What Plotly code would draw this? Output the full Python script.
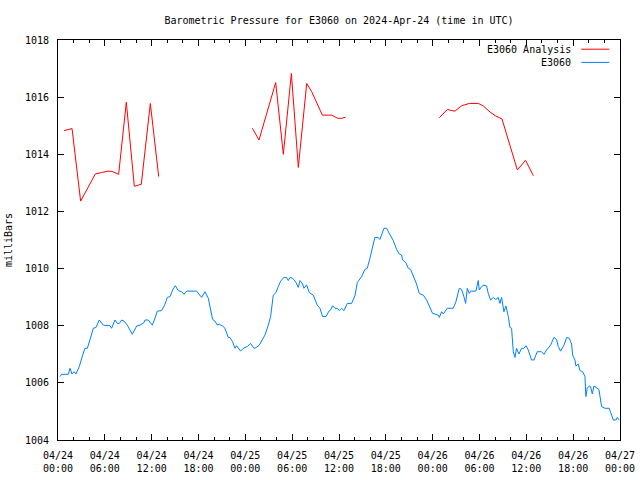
import pandas as pd
import plotly.graph_objects as go

title_text = "Barometric Pressure for E3060 on 2024-Apr-24 (time in UTC)"
start_time = "2024-04-24 00:00"
end_time = "2024-04-27 00:00"

# E3060 Analysis (hours after start, milliBars); None = gap
analysis_hours = [0.77, 1.8, 2.9, 3.42, 4.06, 4.78, 5.55, 6.4, 6.92, 7.77, 8.75, 9.78, 10.67, 11.83, 12.9,
                  18.0,
                  24.9, 25.75, 27.89, 28.87, 29.9, 30.79, 31.86, 32.5, 33.87, 35.06, 35.83, 36.34, 36.85,
                  42.0,
                  48.86, 49.88, 50.44, 50.86, 51.72, 52.7, 53.85, 54.49, 55.35, 56.07, 56.88, 58.85, 59.9, 60.9]
analysis_mb = [1014.83, 1014.9, 1012.36, 1012.63, 1012.98, 1013.31, 1013.36, 1013.41, 1013.4, 1013.3, 1015.82,
               1012.88, 1012.95, 1015.78, 1013.22,
               None,
               1014.91, 1014.5, 1016.51, 1014.0, 1016.83, 1013.54, 1016.48, 1016.19, 1015.37, 1015.37, 1015.26,
               1015.26, 1015.3,
               None,
               1015.28, 1015.57, 1015.53, 1015.51, 1015.70, 1015.78, 1015.78, 1015.69, 1015.48, 1015.34, 1015.24,
               1013.45, 1013.79, 1013.25]

# E3060 observations
obs_hours = [0.26, 0.47, 1.32, 1.54, 1.79, 2.05, 2.31, 2.73, 3.16, 3.46, 3.76, 4.1, 4.53, 4.87, 5.29, 5.81,
             6.66, 6.87, 7.3, 7.6, 7.86, 8.16, 8.45, 8.88, 9.52, 10.08, 10.5, 11.02, 11.14, 11.57, 12.08, 12.42,
             12.72, 13.28, 13.71, 14.0, 14.35, 14.69, 15.03, 15.41, 15.84, 16.14, 16.48, 17.76, 18.4, 18.83,
             19.26, 19.56, 19.81, 20.11, 20.41, 20.67, 21.09, 21.39, 21.61, 21.82, 22.03, 22.37, 22.67, 22.88,
             23.4, 23.74, 24.25, 24.68, 25.1, 25.36, 25.79, 26.21, 26.51, 26.94, 27.24, 27.58, 27.92, 28.22,
             28.52, 28.95, 29.29, 29.5, 29.72, 30.06, 30.48, 30.78, 31.0, 31.34, 31.51, 31.85, 32.19, 32.7,
             33.22, 33.56, 33.9, 34.33, 34.71, 34.92, 35.18, 35.48, 35.78, 36.04, 36.33, 36.63, 37.06, 37.61,
             38.04, 38.34, 38.9, 39.32, 39.62, 39.96, 40.26, 40.6, 41.03, 41.24, 41.76, 42.1, 42.44, 42.95,
             43.38, 43.72, 44.02, 44.15, 44.57, 44.87, 45.17, 45.6, 45.94, 46.28, 46.8, 47.22, 47.65, 47.99,
             48.42, 48.72, 48.85, 49.15, 49.36, 49.87, 50.64, 50.98, 51.41, 51.71, 52.0, 52.22, 52.43, 52.69,
             52.9, 53.54, 53.84, 53.97, 54.27, 54.57, 54.91, 55.12, 55.42, 55.76, 56.1, 56.4, 56.62, 56.83,
             57.13, 57.39, 57.69, 57.9, 58.11, 58.33, 58.54, 58.75, 59.05, 59.39, 59.69, 59.95, 60.25, 60.67,
             60.97, 61.4, 61.95, 62.25, 62.6, 63.11, 63.53, 63.88, 64.09, 64.39, 64.82, 65.16, 65.5, 65.8,
             65.93, 66.23, 66.35, 66.65, 66.87, 67.21, 67.51, 67.63, 67.8, 68.06, 68.23, 68.45, 68.66, 69.0,
             69.3, 69.64, 70.07, 70.62, 70.92, 71.14, 71.48, 71.65, 71.9]
obs_mb = [1006.22, 1006.3, 1006.3, 1006.51, 1006.31, 1006.39, 1006.31, 1006.57, 1006.97, 1007.21, 1007.21,
          1007.56, 1007.91, 1007.94, 1008.2, 1008.02, 1008.0, 1007.91, 1008.2, 1008.08, 1008.08, 1008.2, 1008.16,
          1008.02, 1007.7, 1007.99, 1008.02, 1008.11, 1008.2, 1008.2, 1008.02, 1008.26, 1008.51, 1008.53,
          1008.75, 1008.99, 1009.02, 1009.25, 1009.4, 1009.23, 1009.19, 1009.1, 1009.21, 1009.21, 1008.99,
          1009.19, 1008.96, 1008.55, 1008.22, 1008.16, 1008.02, 1008.05, 1007.99, 1007.91, 1007.76, 1007.59,
          1007.59, 1007.44, 1007.21, 1007.3, 1007.11, 1007.21, 1007.27, 1007.38, 1007.21, 1007.23, 1007.32,
          1007.52, 1007.67, 1008.02, 1008.32, 1009.07, 1009.16, 1009.37, 1009.56, 1009.69, 1009.69, 1009.58,
          1009.69, 1009.66, 1009.52, 1009.34, 1009.58, 1009.46, 1009.31, 1009.43, 1009.16, 1009.07, 1008.72,
          1008.61, 1008.32, 1008.32, 1008.51, 1008.55, 1008.7, 1008.61, 1008.61, 1008.53, 1008.61, 1008.53,
          1008.78, 1008.78, 1009.04, 1009.51, 1009.72, 1009.97, 1010.01, 1010.36, 1010.71, 1011.09, 1011.09,
          1011.02, 1011.41, 1011.41, 1011.23, 1010.98, 1010.67, 1010.51, 1010.47, 1010.3, 1010.21, 1010.01,
          1009.97, 1009.69, 1009.46, 1009.13, 1009.07, 1008.9, 1008.64, 1008.43, 1008.4, 1008.37, 1008.29,
          1008.49, 1008.41, 1008.61, 1008.61, 1008.84, 1009.31, 1009.27, 1009.02, 1008.78, 1009.31, 1009.13,
          1009.21, 1009.21, 1009.58, 1009.25, 1009.37, 1009.42, 1009.39, 1009.13, 1008.9, 1008.99, 1008.92,
          1008.99, 1008.78, 1008.99, 1008.49, 1008.69, 1008.32, 1007.94, 1007.91, 1007.09, 1006.89, 1007.21,
          1007.01, 1007.21, 1007.21, 1007.3, 1007.15, 1006.8, 1006.8, 1007.09, 1007.09, 1007.0, 1007.15,
          1007.32, 1007.59, 1007.52, 1007.27, 1007.11, 1007.32, 1007.59, 1007.56, 1007.36, 1006.97, 1006.8,
          1006.59, 1006.66, 1006.43, 1006.39, 1006.22, 1005.52, 1005.81, 1005.89, 1005.87, 1005.61, 1005.89,
          1005.83, 1005.77, 1005.17, 1005.11, 1005.11, 1004.87, 1004.7, 1004.7, 1004.79, 1004.7]

y_ticks = [1004, 1006, 1008, 1010, 1012, 1014, 1016, 1018]
x_tick_labels = ["04/24<br>00:00", "04/24<br>06:00", "04/24<br>12:00", "04/24<br>18:00",
                 "04/25<br>00:00", "04/25<br>06:00", "04/25<br>12:00", "04/25<br>18:00",
                 "04/26<br>00:00", "04/26<br>06:00", "04/26<br>12:00", "04/26<br>18:00",
                 "04/27<br>00:00"]

t0 = pd.Timestamp(start_time)
analysis_t = [t0 + pd.Timedelta(hours=h) for h in analysis_hours]
obs_t = [t0 + pd.Timedelta(hours=h) for h in obs_hours]
x_tick_vals = list(pd.date_range(start_time, end_time, freq="6h"))

RED = "#ff0000"
BLUE = "#0080ff"
FONT = "DejaVu Sans Mono"

fig = go.Figure()
fig.add_trace(go.Scatter(x=obs_t, y=obs_mb, mode="lines", name="E3060",
                         line=dict(color=BLUE, width=1), showlegend=False))
fig.add_trace(go.Scatter(x=analysis_t, y=analysis_mb, mode="lines", name="E3060 Analysis",
                         line=dict(color=RED, width=1), connectgaps=False, showlegend=False))

axis_common = dict(showline=True, linecolor="black", linewidth=1, mirror="ticks",
                   ticks="inside", tickcolor="black", showgrid=False, zeroline=False, automargin=False,
                   tickfont=dict(family=FONT, size=10, color="black"))

fig.update_xaxes(range=[t0, pd.Timestamp(end_time)], tickvals=x_tick_vals, ticktext=x_tick_labels,
                 ticklen=6, ticklabelstandoff=6,
                 minor=dict(dtick=2 * 3600 * 1000, ticks="inside", ticklen=3, tickcolor="black"),
                 **axis_common)
fig.update_yaxes(range=[1004, 1018], tickvals=y_ticks, ticklen=6, ticklabelstandoff=6,
                 title=dict(text="milliBars", font=dict(family=FONT, size=10, color="black"), standoff=10),
                 **axis_common)

# gnuplot-style legend (text left of sample line)
legend_items = [("E3060 Analysis", RED, 0.977), ("E3060", BLUE, 0.944)]
for name, color, yy in legend_items:
    fig.add_annotation(x=0.917, y=yy, xref="paper", yref="paper", text=name, showarrow=False,
                       xanchor="right", yanchor="middle", font=dict(family=FONT, size=10, color="black"))
    fig.add_shape(type="line", xref="paper", yref="paper", x0=0.931, x1=0.981, y0=yy, y1=yy,
                  line=dict(color=color, width=1))

fig.update_layout(
    width=640, height=480,
    margin=dict(l=58, r=20, t=40, b=40, autoexpand=False),
    paper_bgcolor="white", plot_bgcolor="white",
    title=dict(text=title_text, x=339 / 640, xanchor="center",
               y=1 - 20 / 480, yanchor="middle",
               font=dict(family=FONT, size=10, color="black")),
    font=dict(family=FONT, size=10, color="black"),
    showlegend=False,
)

fig.write_html("out.html", config={"displayModeBar": False},
               post_script="document.body.style.margin='0';document.body.style.overflow='hidden';")
